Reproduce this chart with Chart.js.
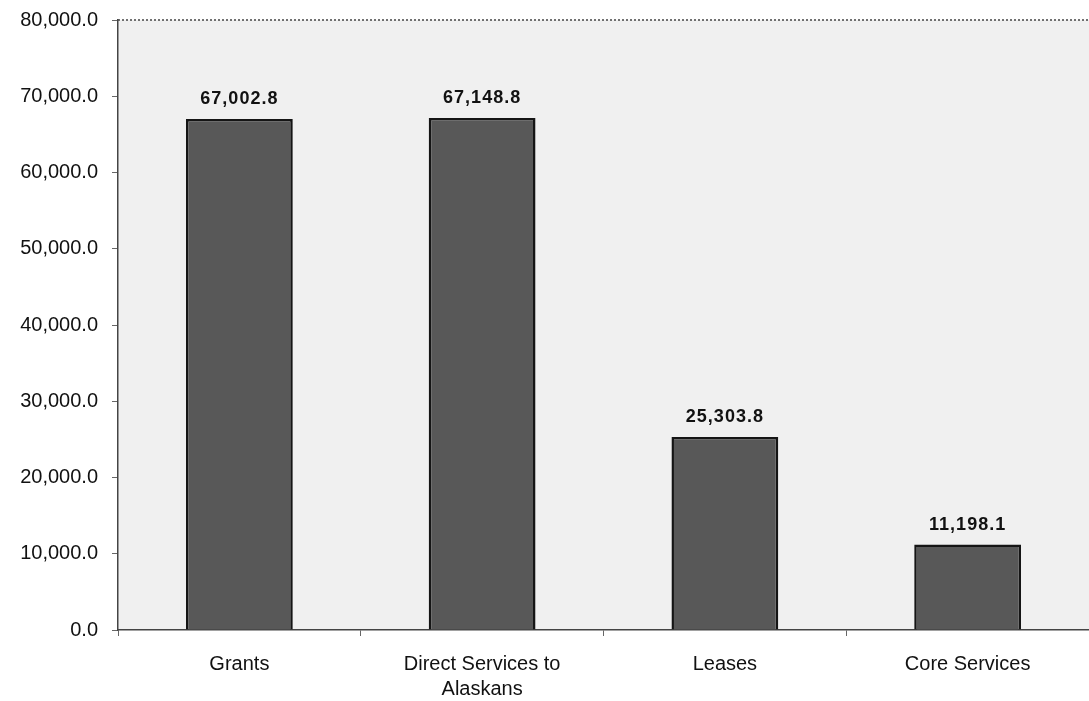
<!DOCTYPE html>
<html>
<head>
<meta charset="utf-8">
<script src="https://cdn.jsdelivr.net/npm/chart.js@4.4.1/dist/chart.umd.min.js"></script>
<style>
	html, body { margin: 0; padding: 0; background: #fff; }
	#wrap { width: 1089px; height: 701px; position: relative; }
</style>
</head>
<body>
<div id="wrap"><canvas id="chart"></canvas></div>
<script>
const categories = ['Grants', ['Direct Services to', 'Alaskans'], 'Leases', 'Core Services'];
const amounts = [67002.8, 67148.8, 25303.8, 11198.1];
const yMax = 80000;
const yStep = 10000;

const fontFamily = '"Liberation Sans", Arial, sans-serif';
const fmt = v => v.toLocaleString('en-US', { minimumFractionDigits: 1, maximumFractionDigits: 1 });

// plot background + dotted top border
const plotFrame = {
	id: 'plotFrame',
	beforeDraw(chart) {
		const { ctx, chartArea: a } = chart;
		ctx.save();
		ctx.fillStyle = '#f0f0f0';
		ctx.fillRect(a.left, a.top, a.right - a.left, a.bottom - a.top);
		ctx.strokeStyle = '#444';
		ctx.lineWidth = 1.5;
		ctx.setLineDash([2, 2]);
		ctx.beginPath();
		ctx.moveTo(a.left, a.top);
		ctx.lineTo(a.right, a.top);
		ctx.stroke();
		ctx.restore();
	}
};

// value labels above bars
const valueLabels = {
	id: 'valueLabels',
	afterDatasetsDraw(chart) {
		const { ctx } = chart;
		const meta = chart.getDatasetMeta(0);
		ctx.save();
		ctx.font = 'bold 18px ' + fontFamily;
		ctx.letterSpacing = '1px';
		ctx.fillStyle = '#111';
		ctx.textAlign = 'center';
		ctx.textBaseline = 'middle';
		meta.data.forEach((bar, i) => {
			ctx.fillText(fmt(amounts[i]), bar.x, bar.y - 20);
		});
		ctx.restore();
	}
};

new Chart(document.getElementById('chart'), {
	type: 'bar',
	data: {
		labels: categories,
		datasets: [{
			data: amounts,
			backgroundColor: '#585858',
			borderColor: '#151515',
			borderWidth: 2.5,
			borderSkipped: 'bottom',
			categoryPercentage: 1,
			barPercentage: 0.44
		}]
	},
	options: {
		responsive: true,
		maintainAspectRatio: false,
		animation: false,
		layout: { padding: { top: 20, right: 0, left: 0, bottom: 0 } },
		plugins: {
			legend: { display: false },
			tooltip: { enabled: false }
		},
		scales: {
			x: {
				grid: { drawOnChartArea: false, tickLength: 6, color: '#666' },
				border: { color: '#444', dash: [2, 2], width: 1.5 },
				ticks: {
					color: '#111',
					padding: 16,
					font: { family: fontFamily, size: 20, lineHeight: 1.25 },
					maxRotation: 0
				},
				afterFit(scale) { scale.height = 71; }
			},
			y: {
				min: 0,
				max: yMax,
				grid: { drawOnChartArea: false, tickLength: 6, color: '#666' },
				border: { color: '#444', dash: [2, 2], width: 1.5 },
				ticks: {
					stepSize: yStep,
					color: '#111',
					padding: 14,
					font: { family: fontFamily, size: 20 },
					callback: v => fmt(v)
				},
				afterFit(scale) {
					scale.width = 118;
					scale.paddingTop = 0;
					scale.paddingBottom = 0;
				}
			}
		}
	},
	plugins: [plotFrame, valueLabels]
});
</script>
</body>
</html>
